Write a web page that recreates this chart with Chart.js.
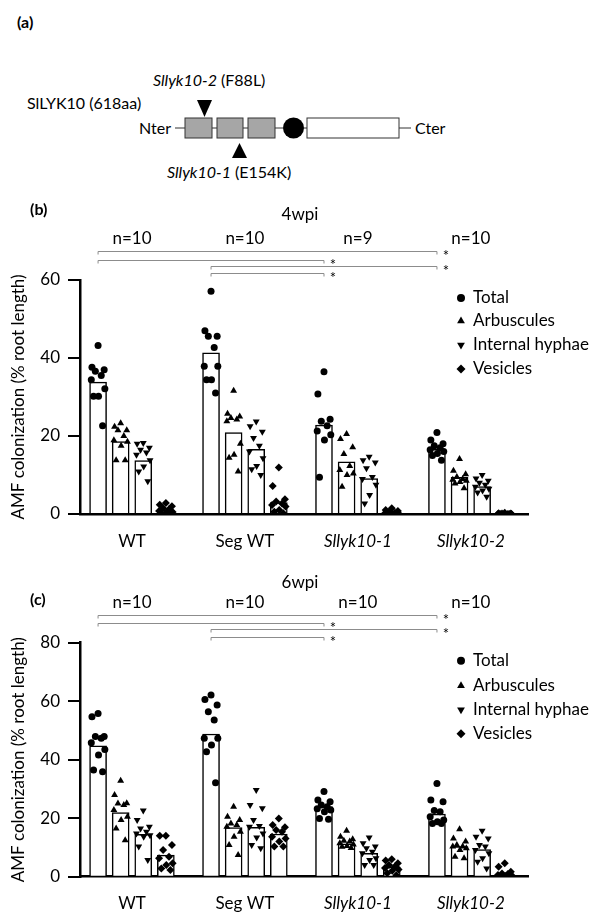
<!DOCTYPE html>
<html>
<head>
<meta charset="utf-8">
<script src="https://cdn.jsdelivr.net/npm/chart.js@4.4.1/dist/chart.umd.min.js"></script>
<style>
  html, body { margin: 0; padding: 0; background: #fff; }
  body { width: 602px; height: 913px; position: relative; overflow: hidden; font-family: Lato, sans-serif; }
  #diagram { position: absolute; left: 0; top: 0; }
  #chart4 { position: absolute; left: 0; top: 190px; }
  #chart6 { position: absolute; left: 0; top: 565px; }
</style>
</head>
<body>
<svg id="diagram" width="602" height="190" font-family="Lato, sans-serif" font-size="16">
  <text x="17" y="28" font-weight="bold">(a)</text>
  <text x="27" y="109">SlLYK10 (618aa)</text>
  <text x="153" y="86"><tspan font-style="italic">Sllyk10-2</tspan> (F88L)</text>
  <polygon points="197,100 212,100 204.5,117" fill="#000"/>
  <text x="139" y="134">Nter</text>
  <g stroke="#333" stroke-width="1">
    <line x1="175" y1="128" x2="185" y2="128"/>
    <line x1="212" y1="128" x2="217" y2="128"/>
    <line x1="243" y1="128" x2="248" y2="128"/>
    <line x1="275" y1="128" x2="283" y2="128"/>
    <line x1="304" y1="128" x2="307" y2="128"/>
    <line x1="399" y1="128" x2="411" y2="128"/>
    <rect x="185" y="118" width="27" height="20" fill="#a6a6a6"/>
    <rect x="217" y="118" width="26" height="20" fill="#a6a6a6"/>
    <rect x="248" y="118" width="27" height="20" fill="#a6a6a6"/>
    <rect x="307" y="118" width="92" height="20" fill="#fff"/>
  </g>
  <circle cx="293.5" cy="128" r="10.5" fill="#000"/>
  <text x="415" y="134">Cter</text>
  <polygon points="232,158 247,158 239.5,143" fill="#000"/>
  <text x="167" y="178"><tspan font-style="italic">Sllyk10-1</tspan> (E154K)</text>
</svg>
<canvas id="chart4" width="602" height="360"></canvas>
<canvas id="chart6" width="602" height="348"></canvas>
<script>
const GROUPS = ['WT', 'Seg WT', 'Sllyk10-1', 'Sllyk10-2']
const TYPES = ['Total', 'Arbuscules', 'Internal hyphae', 'Vesicles']
const BRACKETS = [[0, 3], [0, 2], [1, 3], [1, 2]]

// 4 wpi: individual plants per genotype
const total4 = [
    [43.2, 37.6, 37.0, 36.6, 35.5, 34.4, 32.1, 30.2, 30.2, 22.6],
    [57.1, 47.0, 45.6, 45.6, 42.7, 37.9, 37.9, 34.4, 34.4, 31.0],
    [36.5, 30.8, 24.3, 23.8, 22.6, 21.3, 20.3, 19.0, 9.4],
    [20.9, 19.0, 18.0, 17.5, 17.0, 16.5, 16.0, 15.5, 15.0, 13.8]
]
const arb4 = [
    [23.3, 22.4, 21.5, 21.5, 20.0, 18.9, 18.5, 17.5, 13.8, 13.8],
    [31.6, 25.7, 25.0, 24.6, 24.2, 23.8, 18.0, 15.2, 14.4, 10.9],
    [20.5, 19.2, 17.1, 15.4, 12.3, 11.3, 10.4, 10.0, 7.0],
    [14.1, 11.1, 10.2, 9.5, 9.0, 8.8, 8.5, 8.2, 7.8, 6.6]
]
const hyph4 = [
    [18.2, 18.0, 17.0, 16.5, 15.8, 15.2, 13.8, 12.2, 10.9, 8.4],
    [23.7, 22.5, 21.1, 19.5, 17.5, 16.0, 14.3, 12.3, 11.5, 10.0],
    [14.7, 13.8, 13.2, 11.7, 9.5, 9.0, 7.5, 4.9, 2.7],
    [10.0, 9.1, 8.5, 8.0, 7.5, 7.0, 6.5, 6.0, 5.5, 4.4]
]
const ves4 = [
    [2.8, 2.4, 2.0, 1.5, 1.2, 0.8, 0.5, 0.3, 0.1, 0.0],
    [11.9, 7.2, 3.8, 3.2, 2.7, 2.3, 1.9, 1.0, 0.6, 0.2],
    [1.5, 1.0, 0.8, 0.5, 0.3, 0.2, 0.1, 0.0, 0.0],
    [0.3, 0.2, 0.1, 0.1, 0.0, 0.0, 0.0, 0.0, 0.0, 0.0]
]
const barTotal4 = [33.8, 41.3, 22.8, 16.6]
const barArb4 = [18.6, 20.9, 13.4, 9.4]
const barHyph4 = [13.7, 16.6, 9.1, 7.0]
const barVes4 = [1.0, 2.9, 0.4, 0.1]
const n4 = [10, 10, 9, 10]

// 6 wpi
const total6 = [
    [55.8, 54.7, 47.9, 47.9, 47.3, 45.8, 43.5, 41.6, 36.5, 35.9],
    [62.1, 60.6, 58.7, 56.4, 53.6, 47.3, 47.3, 45.0, 42.7, 32.1],
    [29.1, 26.2, 25.6, 24.5, 23.9, 23.2, 22.8, 22.2, 19.9, 19.6],
    [31.9, 26.2, 25.6, 22.6, 22.2, 20.5, 19.4, 18.8, 18.2, 18.2]
]
const arb6 = [
    [32.8, 27.9, 25.1, 25.0, 24.5, 22.8, 20.5, 19.4, 16.5, 12.5],
    [23.9, 20.5, 19.4, 18.2, 17.7, 17.1, 15.4, 13.7, 10.8, 7.4],
    [15.7, 13.7, 12.8, 12.3, 12.0, 11.4, 11.0, 10.5, 10.2, 9.8],
    [16.2, 13.1, 12.0, 10.8, 10.3, 10.3, 9.7, 9.1, 6.8, 6.3]
]
const hyph6 = [
    [22.6, 19.4, 17.1, 16.5, 15.4, 14.8, 14.2, 13.7, 10.3, 5.7],
    [29.6, 24.5, 23.4, 19.4, 17.3, 17.1, 14.8, 13.4, 10.8, 9.7],
    [13.4, 11.4, 10.3, 9.7, 8.5, 8.0, 6.3, 5.7, 4.0, 4.0],
    [15.7, 13.7, 13.1, 10.8, 10.3, 9.1, 8.0, 6.3, 5.1, 2.8]
]
const ves6 = [
    [14.0, 14.0, 10.8, 9.1, 6.8, 6.3, 4.6, 4.0, 2.8, 2.3],
    [19.9, 17.7, 16.9, 16.0, 15.4, 13.7, 13.1, 12.0, 10.3, 10.3],
    [6.0, 5.5, 4.6, 4.0, 3.5, 3.0, 2.5, 2.0, 1.2, 0.5],
    [4.6, 3.4, 1.7, 1.1, 0.9, 0.6, 0.5, 0.2, 0.0, 0.0]
]
const barTotal6 = [44.7, 48.8, 24.0, 21.4]
const barArb6 = [21.9, 16.8, 11.2, 10.3]
const barHyph6 = [14.5, 16.9, 8.0, 9.3]
const barVes6 = [7.4, 14.6, 3.4, 1.1]
const n6 = [10, 10, 10, 10]

// layout helpers: each genotype takes 5 slots (4 bars + gap)
const GROUP_CENTERS = GROUPS.map((g, i) => i * 5 + 1.5)
const JITTER = [0, -0.27, 0.27, -0.12, 0.14, -0.3, 0.3, 0.02, -0.2, 0.2]
const MARKERS = [
    { pointStyle: 'circle', rotation: 0, radius: 3.5 },
    { pointStyle: 'triangle', rotation: 0, radius: 4 },
    { pointStyle: 'triangle', rotation: 180, radius: 4 },
    { pointStyle: 'rectRot', rotation: 0, radius: 4 }
]
const FONT = 'Lato, sans-serif'

const panelAnnot = {
    id: 'panelAnnot',
    afterDraw(chart, args, o) {
        const { ctx, chartArea } = chart
        const x = chart.scales.x
        const top = chartArea.top
        ctx.save()
        ctx.fillStyle = '#000'
        ctx.textBaseline = 'middle'
        ctx.textAlign = 'left'
        ctx.font = 'bold 16px ' + FONT
        ctx.fillText(o.panel, 30, top + o.panelDy)

        ctx.font = '17px ' + FONT
        ctx.textAlign = 'center'
        ctx.fillText(o.title, 300, top + o.titleDy)
        o.n.forEach((n, g) => ctx.fillText('n=' + n, x.getPixelForValue(GROUP_CENTERS[g]), top + o.nDy))

        // significance brackets
        ctx.strokeStyle = '#8c8c8c'
        ctx.lineWidth = 1
        BRACKETS.forEach(([a, b], i) => {
            const x1 = x.getPixelForValue(a * 5)
            const x2 = x.getPixelForValue(b * 5)
            const y = Math.round(top + o.bracketDy[i]) + 0.5
            ctx.beginPath()
            ctx.moveTo(x1, y + 3)
            ctx.lineTo(x1, y)
            ctx.lineTo(x2, y)
            ctx.lineTo(x2, y + 3)
            ctx.stroke()
            ctx.font = '15px ' + FONT
            ctx.fillText('*', x2 + 9, y + 5)
        })

        // legend
        ctx.textAlign = 'left'
        ctx.font = '17px ' + FONT
        TYPES.forEach((t, k) => {
            const y = top + o.legendDy[k]
            ctx.fillStyle = '#000'
            Chart.helpers.drawPoint(ctx, { ...MARKERS[k], radius: MARKERS[k].radius + 0.5, borderWidth: 0 }, 461, y)
            ctx.fillText(t, 473, y)
        })
        ctx.restore()
    }
}

const buildChart = (canvasId, bars, points, cfg) => {
    const barData = []
    bars.forEach((vals, k) => vals.forEach((v, g) => barData.push({ x: g * 5 + k, y: v })))

    const pointSets = points.map((groups, k) => {
        const data = []
        groups.forEach((vals, g) => vals.forEach((v, i) => data.push({ x: g * 5 + k + JITTER[i], y: v })))
        return {
            type: 'line',
            label: TYPES[k],
            data: data,
            showLine: false,
            order: 1,
            pointStyle: MARKERS[k].pointStyle,
            pointRotation: MARKERS[k].rotation,
            pointRadius: MARKERS[k].radius,
            pointBackgroundColor: '#000',
            pointBorderColor: '#000',
            pointBorderWidth: 0
        }
    })

    return new Chart(document.getElementById(canvasId), {
        type: 'bar',
        data: {
            datasets: [
                {
                    type: 'bar',
                    label: 'mean',
                    data: barData,
                    order: 2,
                    barThickness: 17,
                    backgroundColor: '#fff',
                    borderColor: '#000',
                    borderWidth: 1.5
                },
                ...pointSets
            ]
        },
        options: {
            responsive: false,
            animation: false,
            events: [],
            layout: { padding: { top: cfg.padTop, right: 74, left: 0, bottom: 0 } },
            plugins: {
                legend: { display: false },
                tooltip: { enabled: false },
                panelAnnot: cfg.annot
            },
            scales: {
                x: {
                    type: 'linear',
                    min: -0.8,
                    max: 19.03,
                    offset: false,
                    afterBuildTicks: s => { s.ticks = GROUP_CENTERS.map(v => ({ value: v })) },
                    ticks: {
                        autoSkip: false,
                        maxRotation: 0,
                        padding: 9,
                        color: '#000',
                        callback: (v, i) => GROUPS[i],
                        font: ctx => ({ family: FONT, size: 17, style: ctx.index >= 2 ? 'italic' : 'normal' })
                    },
                    grid: { display: false },
                    border: { display: true, color: '#000', width: 2.5 },
                    afterFit: s => { s.height = cfg.xHeight }
                },
                y: {
                    min: 0,
                    max: cfg.yMax,
                    ticks: { stepSize: 20, padding: 8, color: '#000', font: { family: FONT, size: 17 } },
                    grid: { drawOnChartArea: false, drawTicks: true, tickLength: 12, color: '#000', lineWidth: 2 },
                    border: { display: true, color: '#000', width: 2.5 },
                    title: {
                        display: true,
                        text: 'AMF colonization (% root length)',
                        color: '#000',
                        font: { family: FONT, size: 17 },
                        padding: { top: 8, bottom: 0 }
                    },
                    afterFit: s => { s.width = 80 }
                }
            }
        },
        plugins: [panelAnnot]
    })
}

buildChart('chart4', [barTotal4, barArb4, barHyph4, barVes4], [total4, arb4, hyph4, ves4], {
    padTop: 90,
    xHeight: 36,
    yMax: 60,
    annot: {
        panel: '(b)', panelDy: -70,
        title: '4wpi', titleDy: -65,
        n: n4, nDy: -41,
        bracketDy: [-29, -20, -14, -7],
        legendDy: [18, 41, 65, 89]
    }
})

buildChart('chart6', [barTotal6, barArb6, barHyph6, barVes6], [total6, arb6, hyph6, ves6], {
    padTop: 77.7,
    xHeight: 36.3,
    yMax: 80,
    annot: {
        panel: '(c)', panelDy: -43,
        title: '6wpi', titleDy: -60,
        n: n6, nDy: -40,
        bracketDy: [-28, -20, -14, -6],
        legendDy: [18, 43, 67, 91]
    }
})
</script>
</body>
</html>
